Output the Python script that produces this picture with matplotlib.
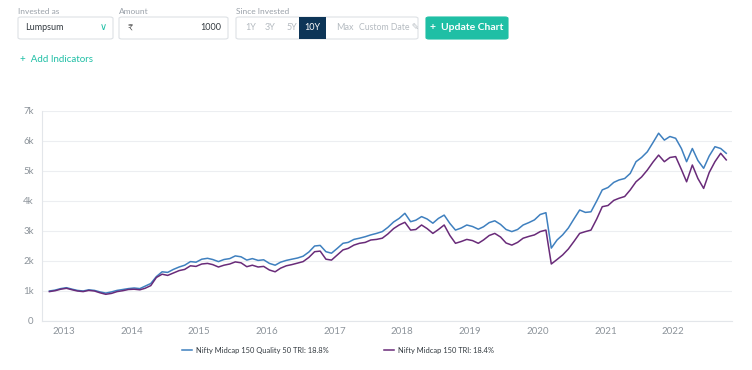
import matplotlib
matplotlib.use("Agg")
import matplotlib.pyplot as plt
import matplotlib.dates as mdates
from matplotlib.patches import FancyBboxPatch, Rectangle
import pandas as pd

plt.rcParams['font.family'] = ['Lato', 'DejaVu Sans']

# monthly values (in thousands), Oct 2012 .. Oct 2022
dates = pd.date_range("2012-10-01", "2022-10-01", freq="MS") + pd.Timedelta(days=14)

quality50 = [
    1.00, 1.03, 1.08,
    1.11, 1.06, 1.02, 1.00, 1.04, 1.02, 0.97, 0.93, 0.97, 1.02, 1.05, 1.08,
    1.10, 1.08, 1.16, 1.25, 1.48, 1.64, 1.62, 1.72, 1.80, 1.86, 1.98, 1.96,
    2.06, 2.09, 2.05, 1.98, 2.05, 2.08, 2.17, 2.14, 2.03, 2.08, 2.02, 2.04,
    1.92, 1.86, 1.96, 2.02, 2.06, 2.10, 2.16, 2.30, 2.50, 2.52, 2.31, 2.26,
    2.42, 2.59, 2.62, 2.72, 2.76, 2.81, 2.87, 2.92, 2.98, 3.12, 3.30, 3.42,
    3.59, 3.31, 3.36, 3.48, 3.40, 3.26, 3.42, 3.53, 3.25, 3.03, 3.10, 3.20,
    3.15, 3.06, 3.14, 3.28, 3.34, 3.22, 3.05, 2.98, 3.05, 3.20, 3.28, 3.37,
    3.55, 3.61, 2.43, 2.70, 2.87, 3.10, 3.40, 3.70, 3.62, 3.64, 4.00, 4.37,
    4.45, 4.62, 4.70, 4.75, 4.92, 5.31, 5.45, 5.64, 5.95, 6.26, 6.03, 6.15,
    6.09, 5.75, 5.31, 5.75, 5.35, 5.09, 5.50, 5.81, 5.75, 5.59,
]
midcap150 = [
    0.98, 1.01, 1.06,
    1.09, 1.04, 1.00, 0.98, 1.02, 1.00, 0.94, 0.89, 0.92, 0.98, 1.01, 1.05,
    1.06, 1.04, 1.09, 1.18, 1.45, 1.56, 1.52, 1.60, 1.68, 1.72, 1.84, 1.82,
    1.90, 1.92, 1.88, 1.80, 1.86, 1.90, 1.97, 1.94, 1.81, 1.86, 1.80, 1.82,
    1.70, 1.64, 1.76, 1.84, 1.88, 1.93, 1.98, 2.12, 2.31, 2.33, 2.06, 2.03,
    2.20, 2.37, 2.42, 2.53, 2.59, 2.62, 2.70, 2.72, 2.76, 2.90, 3.08, 3.20,
    3.29, 3.03, 3.05, 3.20, 3.08, 2.92, 3.05, 3.20, 2.85, 2.59, 2.65, 2.72,
    2.68, 2.59, 2.70, 2.85, 2.92, 2.80, 2.60, 2.53, 2.62, 2.76, 2.82, 2.87,
    2.98, 3.03, 1.90, 2.05, 2.20, 2.40, 2.65, 2.92, 2.98, 3.03, 3.40, 3.81,
    3.85, 4.02, 4.09, 4.15, 4.37, 4.64, 4.80, 5.03, 5.30, 5.53, 5.31, 5.45,
    5.48, 5.05, 4.64, 5.20, 4.75, 4.42, 4.95, 5.31, 5.59, 5.37,
]
labels = ["Nifty Midcap 150 Quality 50 TRI: 18.8%", "Nifty Midcap 150 TRI: 18.4%"]
yticks = [0, 1000, 2000, 3000, 4000, 5000, 6000, 7000]
ytick_labels = ["0", "1k", "2k", "3k", "4k", "5k", "6k", "7k"]

W, H = 752, 370
fig = plt.figure(figsize=(W / 100, H / 100), dpi=100)

def px(x, y):
    return x / W, 1 - y / H

grey = "#9aa1a9"
teal = "#1fbfa5"

# --- top controls ---
def box(x0, y0, x1, y1, fc="white", ec="#dde1e5"):
    fx, fy = px(x0, y1)
    p = FancyBboxPatch((fx, fy), (x1 - x0) / W, (y1 - y0) / H,
                       boxstyle="round,pad=0,rounding_size=0.004",
                       transform=fig.transFigure, fc=fc, ec=ec, lw=0.8)
    fig.add_artist(p)

fig.text(*px(18, 11), "Invested as", fontsize=6, color=grey, va="center")
fig.text(*px(119, 11), "Amount", fontsize=6, color=grey, va="center")
fig.text(*px(236, 11), "Since Invested", fontsize=6, color=grey, va="center")

box(18, 17, 113, 39)
fig.text(*px(25, 28), "Lumpsum", fontsize=6.5, color="#333a40", va="center")
fig.text(*px(103, 28), "\u2228", fontsize=7, color=teal, va="center", ha="center")

box(119, 17, 228, 39)
fig.text(*px(127, 28), "\u20b9", fontsize=6.5, color="#555", va="center")
fig.text(*px(221, 28), "1000", fontsize=6.5, color="#333a40", va="center", ha="right")

box(236, 17, 418, 39)
fig.add_artist(Rectangle(px(299, 39), 27 / W, 22 / H, transform=fig.transFigure,
                         fc="#0d3557", ec="none"))
for x, t in [(251, "1Y"), (270, "3Y"), (292, "5Y"), (345, "Max")]:
    fig.text(*px(x, 28), t, fontsize=6.5, color="#b5bbc1", va="center", ha="center")
fig.text(*px(312.5, 28), "10Y", fontsize=6.5, color="white", va="center", ha="center")
fig.text(*px(359, 28), "Custom Date \u270e", fontsize=6.3, color="#b5bbc1", va="center",
         family=["Lato", "DejaVu Sans"])

box(426, 17, 508, 39, fc=teal, ec=teal)
fig.text(*px(467, 28), "+  Update Chart", fontsize=7.5, color="white", va="center",
         ha="center", weight="bold")

fig.text(*px(20, 60), "+  Add Indicators", fontsize=7, color=teal, va="center")

# --- chart ---
ax = fig.add_axes([42 / W, 1 - 321 / H, 690 / W, 210 / H])
ax.plot(dates, [v * 1000 for v in quality50], color="#3f80bf", lw=1.1, label=labels[0])
ax.plot(dates, [v * 1000 for v in midcap150], color="#692b79", lw=1.1, label=labels[1])

ax.set_ylim(0, 7000)
ax.set_xlim(pd.Timestamp("2012-09-05"), pd.Timestamp("2022-11-15"))
ax.set_yticks(yticks)
ax.set_yticklabels(ytick_labels)
ax.xaxis.set_major_locator(mdates.YearLocator())
ax.xaxis.set_major_formatter(mdates.DateFormatter("%Y"))
ax.grid(axis="y", color="#eceef1", lw=0.8)
ax.set_axisbelow(True)
for s in ["top", "right"]:
    ax.spines[s].set_visible(False)
for s in ["left", "bottom"]:
    ax.spines[s].set_color("#e3e6ea")
    ax.spines[s].set_linewidth(0.8)
ax.tick_params(length=0, labelsize=7, colors="#8d949b", pad=6)
ax.tick_params(axis="x", pad=4)

fig.legend(loc="center", bbox_to_anchor=(338 / W, 1 - 350 / H), ncol=2, frameon=False,
           fontsize=5.4, handlelength=1.3, columnspacing=7.3, handletextpad=0.6,
           labelcolor="#333a40")

fig.savefig("out.png", dpi=100)
